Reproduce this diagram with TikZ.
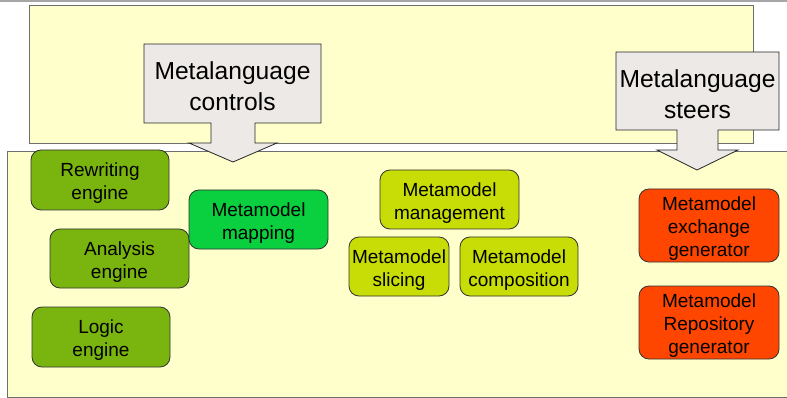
\documentclass[tikz,border=0pt]{standalone}
\usepackage{fontspec}
\setmainfont{Liberation Sans}
\definecolor{panel}{HTML}{FFFFCC}
\definecolor{panelline}{HTML}{6E6E6E}
\definecolor{calloutfill}{HTML}{EDE9E6}
\definecolor{enginegreen}{HTML}{7AB50F}
\definecolor{mapgreen}{HTML}{0ACF3E}
\definecolor{mmyellow}{HTML}{C8DC05}
\definecolor{genorange}{HTML}{FF4600}
\tikzset{
  panelbox/.style={fill=panel, draw=panelline, line width=0.9pt},
  callout/.style={fill=calloutfill, draw=black!85, line width=0.8pt},
  callouttext/.style={align=center, font=\fontsize{24.6}{30.5}\selectfont, inner sep=0pt},
  blocktext/.style={align=center, inner sep=0pt, font=\fontsize{19}{23}\selectfont},
  % rounded box whose caption sits slightly below the centre
  block/.style={draw=black!80, line width=0.8pt, rounded corners=10pt,
    inner sep=0pt, label={[blocktext, yshift=-3.5pt]center:#1}},
}
\begin{document}
\begin{tikzpicture}[x=1pt,y=-1pt]
\useasboundingbox (0,0) rectangle (787,398);

% thin frame line along the top edge
\draw[gray!70, line width=1.5pt] (0,1) -- (787,1);

% upper panel
\path[panelbox] (29,5) rectangle (753,143);

% lower panel (runs past the right edge)
\fill[panel] (7,151) rectangle (787,397);
\draw[panelline, line width=0.9pt] (787,151) -- (7,151) -- (7,397) -- (787,397);

% callout arrows
\path[callout] (144,44) -- (321,44) -- (321,123) -- (255,123) -- (255,143)
  -- (277,143) -- (233,162) -- (189,143) -- (211,143) -- (211,123)
  -- (144,123) -- cycle;
\node[callouttext] (controls) at (232.5,86) {Metalanguage\\controls};

\path[callout] (616,52) -- (779,52) -- (779,130) -- (718,130) -- (718,150)
  -- (738,150) -- (697,170) -- (657,150) -- (677,150) -- (677,130)
  -- (616,130) -- cycle;
\node[callouttext] (steers) at (697.5,94) {Metalanguage\\steers};

% engines
\node[block={Rewriting\\engine}, fill=enginegreen, minimum width=138pt, minimum height=60pt] (rewriting) at (100,180) {};
\node[block={Analysis\\engine}, fill=enginegreen, minimum width=139pt, minimum height=59pt] (analysis) at (119.5,258.5) {};
\node[block={Logic\\engine}, fill=enginegreen, minimum width=138pt, minimum height=60pt] (logic) at (101,337) {};

% metamodel operations
\node[block={Metamodel\\mapping}, fill=mapgreen, minimum width=139pt, minimum height=59pt] (mapping) at (258.5,219.5) {};
\node[block={Metamodel\\management}, fill=mmyellow, minimum width=139pt, minimum height=59pt] (management) at (449.5,199.5) {};
\node[block={Metamodel\\slicing}, fill=mmyellow, minimum width=100pt, minimum height=59pt] (slicing) at (399,266.5) {};
\node[block={Metamodel\\composition}, fill=mmyellow, minimum width=118pt, minimum height=59pt] (composition) at (519,266.5) {};

% generators
\node[block={Metamodel\\exchange\\generator}, fill=genorange, minimum width=140pt, minimum height=73pt] (exchange) at (709,225.5) {};
\node[block={Metamodel\\Repository\\generator}, fill=genorange, minimum width=140pt, minimum height=73pt] (repository) at (709,322.5) {};
\end{tikzpicture}
\end{document}
